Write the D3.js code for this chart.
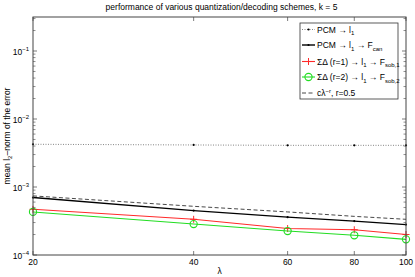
<!DOCTYPE html>
<html>
<head>
<meta charset="utf-8">
<script src="https://cdn.jsdelivr.net/npm/d3@7"></script>
<style>
  body { margin: 0; background: #fff; }
  text { font-family: "Liberation Sans", Arial, sans-serif; fill: #000; }
</style>
</head>
<body>
<svg id="chart" width="415" height="277"></svg>
<script>
// values
var lambdas = [20, 40, 60, 80, 100];
var pcmL1 = [4.25e-3, 4.15e-3, 4.1e-3, 4.1e-3, 4.1e-3];
var pcmCan = [7.0e-4, 4.5e-4, 3.6e-4, 3.15e-4, 2.8e-4];
var sd1Sob = [4.7e-4, 3.35e-4, 2.45e-4, 2.35e-4, 2.0e-4];
var sd2Sob = [4.3e-4, 2.85e-4, 2.25e-4, 1.95e-4, 1.7e-4];
var refCurve = [7.4e-4, 5.2e-4, 4.3e-4, 3.7e-4, 3.35e-4];
var xTicks = [20, 40, 60, 80, 100];
var yTicks = [1e-4, 1e-3, 1e-2, 1e-1];

function drawChart(){

	var margin = { top: 17, right: 9, bottom: 22, left: 33 };
	var width = 415 - margin.left - margin.right;
	var height = 277 - margin.top - margin.bottom;

	var svg = d3.select("#chart");

	var x = d3.scaleLog().domain([20, 100]).range([0, width]);
	var y = d3.scaleLog().domain([1e-4, Math.pow(10, -0.5)]).range([height, 0]);

	var g = svg.append("g")
		.attr("transform", "translate(" + margin.left + "," + margin.top + ")");

	// title
	svg.append("text")
		.attr("x", margin.left + width / 2 + 2)
		.attr("y", 10)
		.attr("text-anchor", "middle")
		.style("font-size", "8.5px")
		.text("performance of various quantization/decoding schemes, k = 5");

	// minor log ticks on y (left + right)
	var minor = [];
	for (var e = -4; e < 0; e++) {
		for (var m = 2; m <= 9; m++) {
			var v = m * Math.pow(10, e);
			if (v <= y.domain()[1]) minor.push(v);
		}
	}
	var axisCol = "#444";
	g.selectAll(".minorL").data(minor).enter().append("line")
		.attr("x1", 0).attr("x2", 2.5)
		.attr("y1", function(d){ return y(d); }).attr("y2", function(d){ return y(d); })
		.attr("stroke", axisCol).attr("stroke-width", 0.6);
	g.selectAll(".minorR").data(minor).enter().append("line")
		.attr("x1", width).attr("x2", width - 2.5)
		.attr("y1", function(d){ return y(d); }).attr("y2", function(d){ return y(d); })
		.attr("stroke", axisCol).attr("stroke-width", 0.6);

	// major ticks y
	g.selectAll(".majL").data(yTicks).enter().append("line")
		.attr("x1", 0).attr("x2", 4)
		.attr("y1", function(d){ return y(d); }).attr("y2", function(d){ return y(d); })
		.attr("stroke", axisCol).attr("stroke-width", 0.7);
	g.selectAll(".majR").data(yTicks).enter().append("line")
		.attr("x1", width).attr("x2", width - 4)
		.attr("y1", function(d){ return y(d); }).attr("y2", function(d){ return y(d); })
		.attr("stroke", axisCol).attr("stroke-width", 0.7);

	// x ticks bottom + top
	g.selectAll(".xb").data(xTicks).enter().append("line")
		.attr("x1", function(d){ return x(d); }).attr("x2", function(d){ return x(d); })
		.attr("y1", height).attr("y2", height - 4)
		.attr("stroke", axisCol).attr("stroke-width", 0.7);
	g.selectAll(".xt").data(xTicks).enter().append("line")
		.attr("x1", function(d){ return x(d); }).attr("x2", function(d){ return x(d); })
		.attr("y1", 0).attr("y2", 4)
		.attr("stroke", axisCol).attr("stroke-width", 0.7);

	// y tick labels 10^e
	var yl = g.selectAll(".ylab").data(yTicks).enter().append("text")
		.attr("x", -4)
		.attr("y", function(d){ return y(d) + 4; })
		.attr("text-anchor", "end")
		.style("font-size", "8.5px");
	yl.append("tspan").text("10");
	yl.append("tspan")
		.attr("dy", "-4")
		.style("font-size", "6px")
		.text(function(d){ return "\u2212" + (-Math.round(Math.log10(d))); });

	// x tick labels
	g.selectAll(".xlab").data(xTicks).enter().append("text")
		.attr("x", function(d){ return x(d); })
		.attr("y", height + 10)
		.attr("text-anchor", "middle")
		.style("font-size", "8.5px")
		.text(function(d){ return d; });

	// axis labels
	g.append("text")
		.attr("x", width / 2)
		.attr("y", height + 19)
		.attr("text-anchor", "middle")
		.style("font-size", "8.5px")
		.text("\u03bb");

	var yt = svg.append("text")
		.attr("transform", "translate(10," + (margin.top + height / 2) + ") rotate(-90)")
		.attr("text-anchor", "middle")
		.style("font-size", "8.5px");
	yt.append("tspan").text("mean l");
	yt.append("tspan").attr("dy", 2).style("font-size", "6px").text("2");
	yt.append("tspan").attr("dy", -2).text("\u2013norm of the error");

	// series
	var line = d3.line()
		.x(function(d){ return x(d[0]); })
		.y(function(d){ return y(d[1]); });
	function pairs(vals){ return lambdas.map(function(l, i){ return [l, vals[i]]; }); }

	var series = [
		{ vals: pcmL1, color: "#666", width: 0.8, dash: "1,1.5", marker: "dot" },
		{ vals: refCurve, color: "#333", width: 0.9, dash: "4,2.5", marker: null },
		{ vals: pcmCan, color: "#000", width: 1.4, dash: null, marker: "dot" },
		{ vals: sd1Sob, color: "#ff2a2a", width: 1.1, dash: null, marker: "plus" },
		{ vals: sd2Sob, color: "#22dd22", width: 1.1, dash: null, marker: "circle" }
	];

	function drawMarker(sel, cx, cy, s){
		if (s.marker === "dot") {
			sel.append("circle").attr("cx", cx).attr("cy", cy).attr("r", 1.1).attr("fill", "#000");
		} else if (s.marker === "plus") {
			sel.append("path")
				.attr("d", "M" + (cx - 3.5) + "," + cy + "H" + (cx + 3.5) + "M" + cx + "," + (cy - 3.5) + "V" + (cy + 3.5))
				.attr("stroke", s.color).attr("stroke-width", 1);
		} else if (s.marker === "circle") {
			sel.append("circle").attr("cx", cx).attr("cy", cy).attr("r", 3.6)
				.attr("fill", "none").attr("stroke", s.color).attr("stroke-width", 1.1);
		}
	}

	series.forEach(function(s){
		var p = pairs(s.vals);
		g.append("path")
			.datum(p)
			.attr("d", line)
			.attr("fill", "none")
			.attr("stroke", s.color)
			.attr("stroke-width", s.width)
			.attr("stroke-dasharray", s.dash);
		p.forEach(function(d){ drawMarker(g, x(d[0]), y(d[1]), s); });
	});

	// frame
	g.append("rect")
		.attr("x", 0).attr("y", 0).attr("width", width).attr("height", height)
		.attr("fill", "none").attr("stroke", axisCol).attr("stroke-width", 1);

	// legend
	var lg = svg.append("g").attr("transform", "translate(300,23)");
	lg.append("rect")
		.attr("width", 98).attr("height", 76)
		.attr("fill", "#fff").attr("stroke", "#333").attr("stroke-width", 0.8);

	var entries = [
		{ s: series[0], parts: [["PCM \u2192 l", 0], ["1", 1]] },
		{ s: series[2], parts: [["PCM \u2192 l", 0], ["1", 1], [" \u2192 F", 0], ["can", 1]] },
		{ s: series[3], parts: [["\u03a3\u0394 (r=1) \u2192 l", 0], ["1", 1], [" \u2192 F", 0], ["sob,1", 1]] },
		{ s: series[4], parts: [["\u03a3\u0394 (r=2) \u2192 l", 0], ["1", 1], [" \u2192 F", 0], ["sob,2", 1]] },
		{ s: series[1], parts: [["c\u03bb", 0], ["\u2212r", 2], [", r=0.5", 0]] }
	];
	var rowY = [6.5, 22, 38.5, 54, 70];

	entries.forEach(function(en, i){
		var yy = rowY[i];
		var row = lg.append("g");
		row.append("line")
			.attr("x1", 2).attr("x2", 15).attr("y1", yy).attr("y2", yy)
			.attr("stroke", en.s.color).attr("stroke-width", en.s.width)
			.attr("stroke-dasharray", en.s.dash);
		drawMarker(row, 8.5, yy, en.s);
		var t = row.append("text")
			.attr("x", 17).attr("y", yy + 3)
			.style("font-size", "8.5px");
		var shift = 0;
		en.parts.forEach(function(pt){
			var want = pt[1] === 1 ? 2.5 : (pt[1] === 2 ? -3.5 : 0);
			var sp = t.append("tspan").attr("dy", want - shift).text(pt[0]);
			if (pt[1]) sp.style("font-size", "6px");
			shift = want;
		});
	});

	return;

}// end function drawChart()

drawChart();
</script>
</body>
</html>
